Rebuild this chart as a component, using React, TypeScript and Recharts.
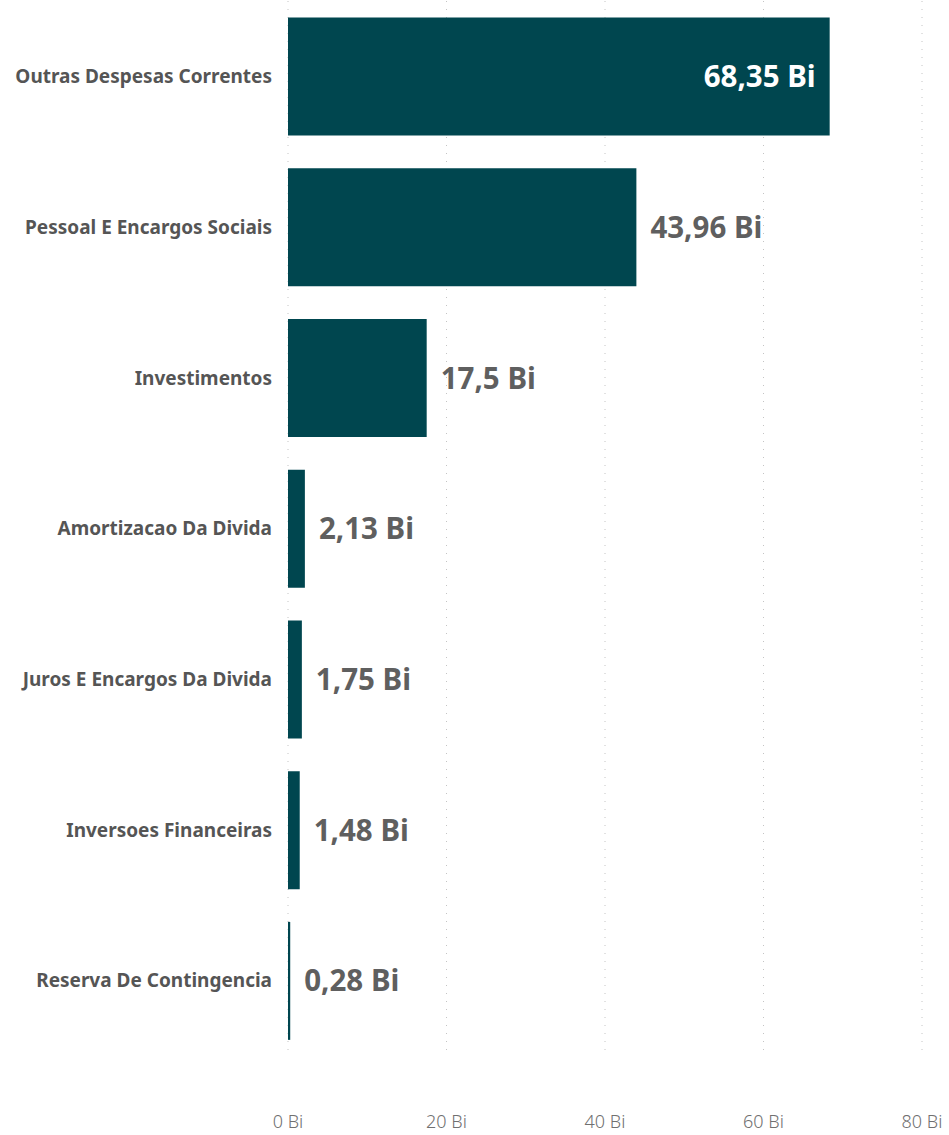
import { BarChart, Bar, XAxis, YAxis, CartesianGrid, LabelList } from 'recharts';

const categories = [
    'Outras Despesas Correntes',
    'Pessoal E Encargos Sociais',
    'Investimentos',
    'Amortizacao Da Divida',
    'Juros E Encargos Da Divida',
    'Inversoes Financeiras',
    'Reserva De Contingencia',
];
const values = [68.35, 43.96, 17.5, 2.13, 1.75, 1.48, 0.28];
const xTicks = [0, 20, 40, 60, 80];

const data = categories.map((name, i) => ({ name, value: values[i] }));

const fontFamily = '"Noto Sans", "Open Sans", sans-serif';
const fmt = (v: number) => `${String(v).replace('.', ',')} Bi`;

// value label: outside right, except when the bar is long enough to hold it
const ValueLabel = (props: any) => {
    const { x, y, width, height, value } = props;
    const inside = value > 60;
    const tx = inside ? x + width - 14 : x + width + 14;
    return (
        <text
            x={tx}
            y={y + height / 2}
            dy="0.36em"
            textAnchor={inside ? 'end' : 'start'}
            fill={inside ? '#ffffff' : '#5f5f5f'}
            fontSize={29.5}
            fontWeight={700}
            fontFamily={fontFamily}
        >
            {fmt(value)}
        </text>
    );
};

const App = () => {
    return (
        <div style={{ position: 'absolute', left: 0, top: 0, background: '#fff' }}>
            <BarChart
                width={949}
                height={1135}
                layout="vertical"
                data={data}
                barCategoryGap="11%"
                margin={{ top: 1, right: 27, left: 0, bottom: 0 }}
            >
                <CartesianGrid horizontal={false} stroke="#c4c4c4" strokeDasharray="1 7" />
                <XAxis
                    type="number"
                    domain={[0, 80]}
                    ticks={xTicks}
                    tickFormatter={(v: number) => `${v} Bi`}
                    axisLine={false}
                    tickLine={false}
                    height={79}
                    tickMargin={53}
                    tick={{ fill: '#707070', fontSize: 18, fontWeight: 300, fontFamily }}
                />
                <YAxis
                    type="category"
                    dataKey="name"
                    width={288}
                    axisLine={false}
                    tickLine={false}
                    tickMargin={10}
                    tick={{ fill: '#555', fontSize: 19, fontWeight: 700, fontFamily }}
                />
                <Bar dataKey="value" fill="#00464f" isAnimationActive={false}>
                    <LabelList dataKey="value" content={ValueLabel} />
                </Bar>
            </BarChart>
        </div>
    );
};

export default App;
